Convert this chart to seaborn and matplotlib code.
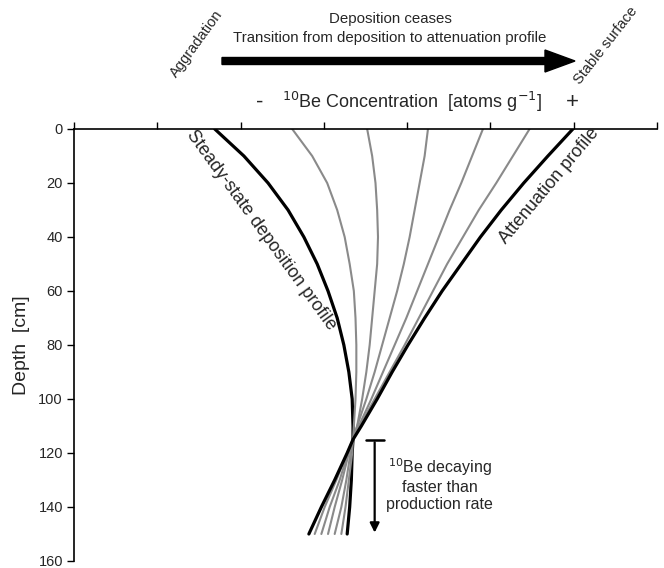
import matplotlib
matplotlib.use("Agg")
import matplotlib.pyplot as plt
import seaborn as sns
import pandas as pd

# ---- data ----
depth = [0, 10, 20, 30, 40, 50, 60, 70, 80, 90, 100, 110, 115, 120, 130, 140, 150]
steady_state = [1.69, 2.04, 2.33, 2.57, 2.76, 2.92, 3.05, 3.16, 3.24, 3.30, 3.34, 3.35, 3.35, 3.34, 3.33, 3.31, 3.28]
transition_1 = [2.62, 2.86, 3.04, 3.16, 3.25, 3.31, 3.36, 3.38, 3.39, 3.39, 3.38, 3.36, 3.35, 3.34, 3.30, 3.26, 3.21]
transition_2 = [3.52, 3.58, 3.62, 3.64, 3.65, 3.64, 3.61, 3.58, 3.55, 3.51, 3.46, 3.40, 3.35, 3.32, 3.27, 3.21, 3.13]
transition_3 = [4.25, 4.21, 4.15, 4.09, 4.03, 3.96, 3.88, 3.79, 3.70, 3.61, 3.51, 3.40, 3.35, 3.30, 3.22, 3.13, 3.05]
transition_4 = [4.91, 4.78, 4.65, 4.51, 4.38, 4.25, 4.12, 3.99, 3.85, 3.71, 3.57, 3.42, 3.35, 3.29, 3.19, 3.07, 2.97]
transition_5 = [5.47, 5.27, 5.07, 4.86, 4.67, 4.48, 4.31, 4.14, 3.97, 3.79, 3.61, 3.43, 3.35, 3.28, 3.15, 3.01, 2.89]
attenuation = [5.99, 5.69, 5.40, 5.13, 4.88, 4.65, 4.42, 4.21, 4.01, 3.82, 3.64, 3.45, 3.35, 3.28, 3.13, 2.97, 2.82]

x_ticks = [0, 1, 2, 3, 4, 5, 6, 7]
y_ticks = [0, 20, 40, 60, 80, 100, 120, 140, 160]

sns.set_theme(style="white")
plt.rcParams['font.family'] = ['Liberation Sans', 'DejaVu Sans']

fig = plt.figure(figsize=(6.64, 5.68), dpi=100)
ax = fig.add_axes([74/664, 1-561/568, (657-74)/664, (561-129)/568])

curves = [
    (steady_state, "black", 2.3),
    (transition_1, "#8a8a8a", 1.5),
    (transition_2, "#8a8a8a", 1.5),
    (transition_3, "#8a8a8a", 1.5),
    (transition_4, "#8a8a8a", 1.5),
    (transition_5, "#8a8a8a", 1.5),
    (attenuation, "black", 2.3),
]
for vals, col, lw in curves:
    df = pd.DataFrame({"conc": vals, "depth": depth})
    sns.lineplot(data=df, x="conc", y="depth", sort=False, estimator=None,
                 color=col, linewidth=lw, ax=ax, orient="y")

ax.set_xlim(0, 7)
ax.set_ylim(160, 0)
ax.xaxis.tick_top()
ax.set_xticks(x_ticks)
ax.set_xticklabels([])
ax.set_yticks(y_ticks)
ax.set_yticklabels([str(v) for v in y_ticks], fontsize=10.5)
ax.tick_params(axis='x', which='both', direction='out', length=5, width=1, color='black', top=True, bottom=False)
ax.tick_params(axis='y', direction='out', length=5, width=1, color='black', left=True, pad=3)
for s in ['right', 'bottom']:
    ax.spines[s].set_visible(False)
for s in ['top', 'left']:
    ax.spines[s].set_color('black')
    ax.spines[s].set_linewidth(1.2)
ax.set_xlabel("")
ax.set_ylabel("Depth  [cm]", fontsize=14, labelpad=6)
ax.grid(False)

# curve labels
ax.text(2.25, 37.5, "Steady-state deposition profile", rotation=-54, fontsize=13,
        ha='center', va='center', rotation_mode='anchor')
ax.text(5.70, 21, "Attenuation profile", rotation=50, fontsize=13,
        ha='center', va='center', rotation_mode='anchor')

# decaying annotation
ax.annotate("", xy=(3.61, 150.5), xytext=(3.61, 115),
            arrowprops=dict(arrowstyle="-|>", color="black", lw=1.6, mutation_scale=14))
ax.plot([3.50, 3.72], [115, 115], color="black", lw=1.8)
ax.text(4.39, 131.5, "$^{10}$Be decaying\nfaster than\nproduction rate", fontsize=11.5,
        ha='center', va='center', linespacing=1.2)

# header texts (figure coordinates)
fig.text(390/664, 1-19/568, "Deposition ceases", fontsize=10.8, ha='center', va='center')
fig.text(390/664, 1-38/568, "Transition from deposition to attenuation profile", fontsize=10.8,
         ha='center', va='center')
fig.patches.append(matplotlib.patches.FancyArrow(
    222/664, 1-61/568, (545-222)/664, 0, width=7/568, head_width=22/568,
    head_length=30/664, length_includes_head=False, color='black',
    transform=fig.transFigure, figure=fig))
fig.text(197/664, 1-44/568, "Aggradation", rotation=54, fontsize=10.5, ha='center', va='center')
fig.text(606/664, 1-46/568, "Stable surface", rotation=52, fontsize=10.5, ha='center', va='center')

fig.text(260/664, 1-102/568, "-", fontsize=16, ha='center', va='center')
fig.text(412/664, 1-102/568, "$^{10}$Be Concentration  [atoms g$^{-1}$]", fontsize=13,
         ha='center', va='center')
fig.text(572/664, 1-102/568, "+", fontsize=16, ha='center', va='center')

fig.savefig("out.png", dpi=100)
